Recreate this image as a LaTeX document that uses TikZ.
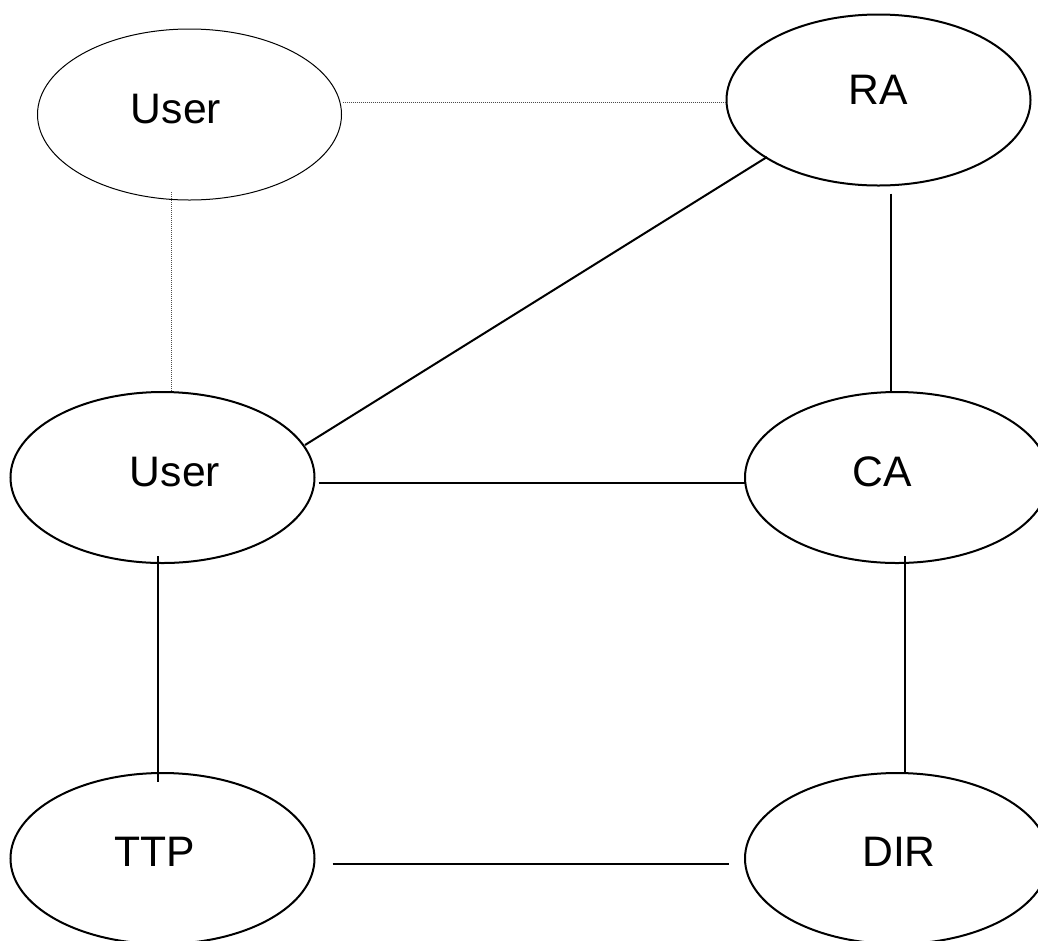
\documentclass[tikz,border=0pt]{standalone}
\usepackage{fontspec}
\setmainfont{Liberation Sans}
\usetikzlibrary{shapes.geometric}
\begin{document}
\begin{tikzpicture}[x=0.75pt,y=-0.75pt,
  elli/.style={draw=black, ellipse, line width=1.5pt, inner sep=0pt, outer sep=0pt,
    minimum width=228pt, minimum height=128.25pt},
  thinelli/.style={elli, line width=0.75pt},
  lbl/.style={inner sep=0pt, font=\fontsize{32}{38}\selectfont},
  link/.style={line width=1.5pt},
  dotlink/.style={line width=0.75pt, draw=black!70, dash pattern=on 0.75pt off 0.75pt}]
\useasboundingbox (0,0) rectangle (1038,940);
% ellipses
\node[thinelli] (u1) at (189.5,114.5) {};
\node[elli] (ra) at (878.5,100) {};
\node[elli] (u2) at (162.5,477.5) {};
\node[elli] (ca) at (897,477.5) {};
\node[elli] (ttp) at (162.5,858.5) {};
\node[elli] (dir) at (897,858.5) {};
% labels
\node[lbl] (u1t) at (176,109) {User};
\node[lbl] (rat) at (878,90) {RA};
\node[lbl] (u2t) at (175,472) {User};
\node[lbl] (cat) at (882,472) {CA};
\node[lbl] (ttpt) at (155,852) {TTP};
\node[lbl] (dirt) at (899,852) {DIR};
% connectors
\draw[dotlink] ([shift={(1,-12.5)}]u1.east) -- ([shift={(-1,2)}]ra.west);
\draw[dotlink] ([shift={(-18.5,-8)}]u1.south) -- ([shift={(8.5,-1)}]u2.north);
\draw[link] ([shift={(142.5,-32.5)}]u2.center) -- ([shift={(-111.5,57)}]ra.center);
\draw[link] ([shift={(12.5,8)}]ra.south) -- ([shift={(-6,0)}]ca.north);
\draw[link] ([shift={(4,5.5)}]u2.east) -- ([shift={(0,5.5)}]ca.west);
\draw[link] ([shift={(-4.5,-7)}]u2.south) -- ([shift={(-4.5,9)}]ttp.north);
\draw[link] ([shift={(8,-7)}]ca.south) -- ([shift={(8,0)}]dir.north);
\draw[link] ([shift={(18,5.5)}]ttp.east) -- ([shift={(-16,5.5)}]dir.west);
\end{tikzpicture}
\end{document}
